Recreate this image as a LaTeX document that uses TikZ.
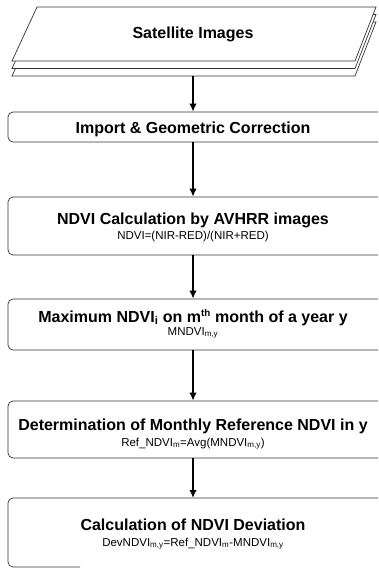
\documentclass[tikz,border=0pt]{standalone}
\usepackage{fontspec}
\setmainfont{Liberation Sans}
\usetikzlibrary{arrows.meta}
\begin{document}
\begin{tikzpicture}[x=1pt,y=-1pt,
  outline/.style={draw=black!80,line width=0.7pt},
  stepbox/.style={outline,rounded corners=5pt,fill=white,inner sep=0pt,minimum width=387pt},
  head/.style={font=\fontsize{16}{18}\selectfont\bfseries,anchor=base,inner sep=0pt},
  formula/.style={font=\fontsize{11.5}{13}\selectfont,anchor=base,inner sep=0pt},
  flow/.style={line width=1.7pt,-{Latex[length=8pt,width=7.5pt]}}]
\useasboundingbox (0,0) rectangle (378,570);
\clip (0,0) rectangle (378,570);

% stacked sheets of satellite images
\foreach \dy in {15,7.5,0}{
  \draw[outline,fill=white] (37,7+\dy) -- (376,7+\dy) -- (355,61+\dy) -- (12,61+\dy) -- cycle;
}
\node[head] (t1) at (193,38) {Satellite Images};
\coordinate (stackbottom) at (193,76);

% processing steps
\node[stepbox,minimum height=30pt] (b2) at (201.5,127) {};
\node[head] (t2) at (193,133) {Import \& Geometric Correction};

\node[stepbox,minimum height=58pt] (b3) at (201.5,226) {};
\node[head] (t3) at (193,224) {NDVI Calculation by AVHRR images};
\node[formula] (f3) at (193,239) {NDVI=(NIR-RED)/(NIR+RED)};

\node[stepbox,minimum height=51pt] (b4) at (201.5,324.5) {};
\node[head] (t4) at (193,322) {Maximum NDVI\textsubscript{i} on m{\fontsize{14}{15}\selectfont\textsuperscript{th}} month of a year y};
\node[formula] (f4) at (193,335) {MNDVI\textsubscript{m,y}};

\node[stepbox,minimum height=57pt] (b5) at (201.5,429.5) {};
\node[head] (t5) at (193,430) {Determination of Monthly Reference NDVI in y};
\node[formula] (f5) at (193,446) {Ref\_NDVI\textsubscript{m}=Avg(MNDVI\textsubscript{m,y})};

% last step, its lower border fades out
\coordinate (b6top) at (193,498);
\draw[outline,rounded corners=5pt] (395,498) -- (8,498) -- (8,567) -- (80,567);
\node[head] (t6) at (193,530) {Calculation of NDVI Deviation};
\node[formula] (f6) at (193,546) {DevNDVI\textsubscript{m,y}=Ref\_NDVI\textsubscript{m}-MNDVI\textsubscript{m,y}};

% connectors
\draw[flow] (stackbottom) -- (b2.north -| t1);
\draw[flow] (b2.south -| t2) -- (b3.north -| t3);
\draw[flow] (b3.south -| t3) -- (b4.north -| t4);
\draw[flow] (b4.south -| t4) -- (b5.north -| t5);
\draw[flow] (b5.south -| t5) -- (b6top);
\end{tikzpicture}
\end{document}
